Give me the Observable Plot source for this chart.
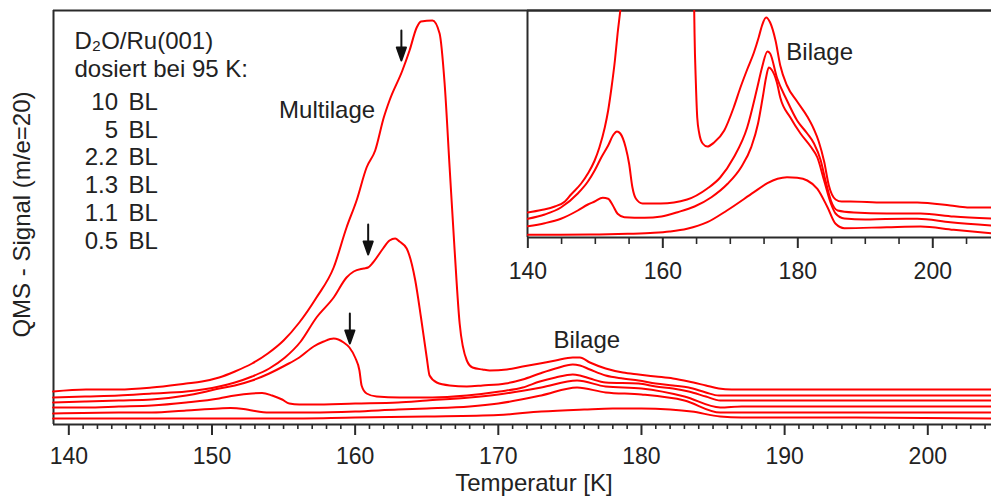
<!DOCTYPE html>
<html><head><meta charset="utf-8">
<script src="https://cdn.jsdelivr.net/npm/d3@7"></script>
<script src="https://cdn.jsdelivr.net/npm/@observablehq/plot@0.6"></script>
<style>
html,body{margin:0;padding:0;background:#fff;}
#wrap{position:relative;width:991px;height:499px;overflow:hidden;background:#fff;}
#main,#inset{position:absolute;top:0;}
#main{left:0;}
#inset{left:502px;}
</style></head><body>
<div id="wrap"><div id="main"></div><div id="inset"></div></div>
<script>
// ---- Main panel: TPD traces [Temperatur K, QMS signal (arb. units)] ----
const bl10 = [[138.9,33],[141.2,35],[143.5,35],[145.8,37],[148.2,41],[149.3,43],[150.5,47],[151.6,53],[152.8,61],[153.9,71],[155.0,84],[156.1,102],[157.3,127],[158.5,157],[159.4,197],[160.1,224],[160.8,257],[161.4,274],[162.0,307],[162.4,324],[163.3,354],[163.8,374],[164.3,397],[164.6,403],[165.4,404],[165.9,391],[166.25,341],[166.6,257],[166.95,174],[167.3,101],[167.8,64],[168.2,57],[168.9,55],[169.4,54],[170.6,55],[171.7,58],[172.9,61],[174.0,64],[175.2,67],[175.7,67],[176.4,62],[177.5,56],[178.7,52],[179.8,50],[181.0,48],[182.2,46],[183.3,43],[184.5,39],[185.4,36],[186.3,35],[188.7,35],[195,35],[201.4,35],[204.5,35]];
const bl5 = [[138.9,27],[141.2,28],[143.5,29],[145.8,31],[148.2,33],[150.5,38],[151.6,42],[152.8,48],[154.0,56],[155.1,67],[156.2,83],[157.3,107],[158.5,127],[159.4,147],[159.9,153],[160.6,156],[160.9,157],[161.25,162],[161.95,176],[162.4,184],[162.8,186],[163.1,183],[163.6,176],[164.2,144],[164.6,107],[165.0,67],[165.2,49],[165.7,42],[166.6,39],[167.8,38],[168.9,39],[170.5,41],[171.7,45],[172.9,51],[174.0,56],[175.2,60],[175.7,59],[176.4,55],[177.5,49],[178.7,46],[179.8,44],[181.0,41],[182.2,39],[183.3,37],[184.5,32],[185.4,29],[186.5,29],[195,29],[204.5,29]];
const bl2_2 = [[138.9,22],[141.2,23],[143.5,24],[145.8,25],[148.2,29],[149.3,32],[150.5,36],[151.6,39],[152.8,44],[154.0,51],[155.1,59],[156.1,67],[157.1,78],[157.8,83],[158.5,86],[159.2,82],[159.6,77],[160.0,67],[160.3,54],[160.45,39],[160.8,31],[161.5,28],[163.1,27],[165.4,27],[167.8,29],[170.1,33],[171.7,37],[172.9,43],[174.0,47],[175.2,50],[175.7,49],[176.4,46],[177.5,42],[179.8,41],[181.0,38],[182.2,36],[183.3,33],[184.5,28],[185.5,24],[187,24],[195,24],[204.5,24]];
const bl1_3 = [[138.9,17],[141.2,17],[143.5,18],[145.8,19],[148.2,22],[150.5,26],[151.6,29],[152.8,31],[153.5,31.5],[154.2,29],[154.9,25],[155.4,21],[156.1,20],[157.0,20],[160,21],[163,22],[165,24],[168,27],[170,30],[173,37],[175.5,44],[177.5,38],[180,36],[183,28],[185.5,17],[187,18],[195,18],[204.5,18]];
const bl1_1 = [[138.9,11],[143.5,12],[145.8,12],[148.2,14],[150.5,16],[151.3,16.5],[152.2,15.5],[152.8,14],[154.0,12],[155.1,12],[157,12],[160,13],[163,15],[165,16],[168,18],[170,21],[173,29],[175.5,37],[177.5,32],[180,30],[183,24],[185.5,12],[187,12],[195,12],[204.5,12]];
const bl0_5 = [[138.9,6],[145,6],[150,6],[155,6],[160,7],[165,8],[170,9.5],[173,13],[176,15],[178,16],[180,16],[182,15],[183.5,13],[185.5,8],[187,7],[195,7],[204.5,6]];

// ---- Inset: magnified low-coverage traces ----
const in2_2 = [[140,25],[142,27.5],[144,31],[145.5,36],[146.4,43],[147.9,54],[148.9,64],[149.9,77],[150.6,90],[151.4,110],[151.9,127],[152.4,150],[152.9,177],[153.3,204],[153.7,227],[154.2,260],[164.5,260],[164.65,227],[164.7,204],[164.9,154],[165.1,120],[165.4,104],[165.9,94],[166.6,91],[167.6,95],[169.1,107],[170.5,130],[171.5,150],[172.5,168],[173.5,185],[174.2,200],[174.7,212],[175.3,220],[175.9,215],[176.7,197],[177.4,172],[178.4,152],[179.9,136],[181.4,121],[182.4,108],[183.1,96],[183.9,76],[184.6,52],[185.6,38],[186.5,36],[187.8,36],[192.7,35],[197.7,35],[202.6,32],[205.1,30],[208.7,30]];
const in1_3 = [[140,18.7],[142.5,23],[144.9,30],[147.4,44],[148.9,56],[149.9,67],[150.9,80.3],[151.9,92],[152.7,103],[153.2,106],[153.7,104],[154.5,90],[155.0,74],[155.5,50],[156.0,39],[157.0,34],[159.7,34],[163.6,38],[166.6,49],[168.5,60],[170.5,80],[172.5,110],[174.0,150],[174.7,170],[175.5,186],[175.9,184],[176.9,160],[178.4,137],[179.9,117],[181.4,104],[182.4,94],[183.4,77],[184.1,57],[184.9,37],[185.9,27],[188.3,25],[193.2,24],[198.2,24],[203.1,21],[208.7,19]];
const in1_1 = [[140,11.3],[142.5,14.3],[144.9,18.7],[147.4,27],[148.9,33],[149.9,36],[151.1,39.7],[151.9,38.7],[152.6,32],[153.3,23.7],[154.3,20.3],[157.3,19.7],[159.8,21],[162.2,25.3],[164.7,31],[167.2,40.3],[169.6,53.7],[171.6,70.3],[173.1,90.3],[174.1,113.7],[174.8,140],[175.3,160],[175.7,170],[176.1,168],[176.9,155],[177.4,140],[178.9,120],[180.4,104],[181.9,91],[182.9,80],[183.9,57],[184.9,34],[185.6,24],[186.9,19],[190,18],[193,18.5],[197.7,18.7],[202.6,15.3],[208.7,12]];
const in0_5 = [[140,2.7],[144.9,2.7],[149.9,3],[154.8,3.7],[158.7,4.7],[161,6],[163.6,8.7],[166.6,15.3],[169.5,27],[173.5,45.3],[175.5,54.3],[177,58.7],[178.4,60.3],[179.9,59.7],[181.4,57],[182.9,48.7],[184.4,30.3],[185.6,13.7],[186.9,9.3],[193.2,10.3],[198.2,11],[203.1,7.7],[208.7,4.3]];

// ---- Labels / ticks ----
const coverages = ["10", "5", "2.2", "1.3", "1.1", "0.5"];
const legendHeader = ["D\u2082O/Ru(001)", "dosiert bei 95 K:"];
const mainMajorTicks = [140, 150, 160, 170, 180, 190, 200];
const mainMinorTicks = d3.range(141, 205).filter(t => t % 10 !== 0);
const insetMajorTicks = [140, 160, 180, 200];
const insetMinorTicks = [145, 150, 155, 165, 170, 175, 185, 190, 195, 205];
const arrowsAt = [{T: 163.23, s: 394}, {T: 160.91, s: 200}, {T: 159.63, s: 111}];
const peakLabels = [{T: 158.04, s: 314, text: "Multilage"}, {T: 176.18, s: 84, text: "Bilage"}];
const insetLabels = [{T: 183.24, s: 185, text: "Bilage"}];

const FONT = "'Liberation Sans', Arial, Helvetica, sans-serif";
const RED = "#ff0000";
const AX = "#2a2a2a";

const rows = (pts, label) => pts.map(([T, s]) => ({T, s, label}));
const mainData = [
  ...rows(bl10, "10 BL"), ...rows(bl5, "5 BL"), ...rows(bl2_2, "2.2 BL"),
  ...rows(bl1_3, "1.3 BL"), ...rows(bl1_1, "1.1 BL"), ...rows(bl0_5, "0.5 BL")
];
const insetData = [
  ...rows(in2_2, "2.2 BL"), ...rows(in1_3, "1.3 BL"), ...rows(in1_1, "1.1 BL"), ...rows(in0_5, "0.5 BL")
];

const xMain = [138.93, 204.45];
const yMain = [0, 414];
const xInset = [139.95, 208.7];
const yInset = [0, 227];

const arrowShape = {
  draw(context, l) {
    const h = 13, w = 4.6;
    context.moveTo(0, 0);
    context.lineTo(0, -l + h);
    context.moveTo(-w, -l + h);
    context.lineTo(0, -l);
    context.lineTo(w, -l + h);
    context.closePath();
  }
};

const mainPlot = Plot.plot({
  width: 991, height: 499,
  marginLeft: 53, marginRight: 0, marginTop: 10, marginBottom: 75,
  x: {domain: xMain},
  y: {domain: yMain, axis: null},
  style: {fontFamily: FONT, fontSize: "23px", color: "#222", background: "transparent", overflow: "visible"},
  marks: [
    Plot.axisX({ticks: mainMinorTicks, tickSize: 5, tickFormat: () => "", label: null, stroke: AX, strokeWidth: 1.6}),
    Plot.axisX({ticks: mainMajorTicks, tickSize: 11, tickPadding: 12, tickFormat: d => String(d), label: null, stroke: AX, strokeWidth: 2, fontSize: 23}),
    Plot.ruleX([xMain[0]], {stroke: AX, strokeWidth: 2}),
    Plot.ruleY([yMain[0], yMain[1]], {stroke: AX, strokeWidth: 2}),
    Plot.line(mainData, {x: "T", y: "s", z: "label", stroke: RED, strokeWidth: 2, curve: "monotone-x"}),
    Plot.vector(arrowsAt, {x: "T", y: "s", length: 30, rotate: 180, anchor: "start", shape: arrowShape, stroke: "#111", fill: "#111", strokeWidth: 2}),
    Plot.text(peakLabels, {x: "T", y: "s", text: "text", fontSize: 24, fill: "#222"}),
    Plot.text([legendHeader.join("\n")], {frameAnchor: "top-left", dx: 21, dy: 18.5, textAnchor: "start", lineAnchor: "top", lineHeight: 1.18, fontSize: 24, fill: "#222"}),
    Plot.text([coverages.join("\n")], {frameAnchor: "top-left", dx: 64.5, dy: 79.5, textAnchor: "end", lineAnchor: "top", lineHeight: 1.16, fontSize: 24, fill: "#222"}),
    Plot.text([coverages.map(() => "BL").join("\n")], {frameAnchor: "top-left", dx: 75, dy: 79.5, textAnchor: "start", lineAnchor: "top", lineHeight: 1.16, fontSize: 24, fill: "#222"}),
    Plot.text(["QMS - Signal (m/e=20)"], {frameAnchor: "left", textAnchor: "middle", lineAnchor: "middle", dx: -31, dy: -3, rotate: -90, fontSize: 24, fill: "#222"}),
    Plot.text([{T: 172.49, label: "Temperatur [K]"}], {x: "T", text: "label", frameAnchor: "bottom", textAnchor: "middle", dy: 66, fontSize: 24, fill: "#222"})
  ]
});
document.getElementById("main").appendChild(mainPlot);

const insetPlot = Plot.plot({
  width: 489, height: 290,
  marginLeft: 25, marginRight: 0, marginTop: 10, marginBottom: 53,
  x: {domain: xInset},
  y: {domain: yInset, axis: null},
  style: {fontFamily: FONT, fontSize: "23px", color: "#222", background: "transparent", overflow: "visible"},
  marks: [
    Plot.axisX({ticks: insetMinorTicks, tickSize: 7, tickFormat: () => "", label: null, stroke: AX, strokeWidth: 1.6}),
    Plot.axisX({ticks: insetMajorTicks, tickSize: 11, tickPadding: 14, tickFormat: d => String(d), label: null, stroke: AX, strokeWidth: 2, fontSize: 23}),
    Plot.ruleX([xInset[0]], {stroke: AX, strokeWidth: 2}),
    Plot.ruleY([yInset[0], yInset[1]], {stroke: AX, strokeWidth: 2}),
    Plot.line(insetData, {x: "T", y: "s", z: "label", stroke: RED, strokeWidth: 2, curve: "monotone-x", clip: true}),
    Plot.text(insetLabels, {x: "T", y: "s", text: "text", fontSize: 24, fill: "#222"})
  ]
});
document.getElementById("inset").appendChild(insetPlot);
</script></body></html>
